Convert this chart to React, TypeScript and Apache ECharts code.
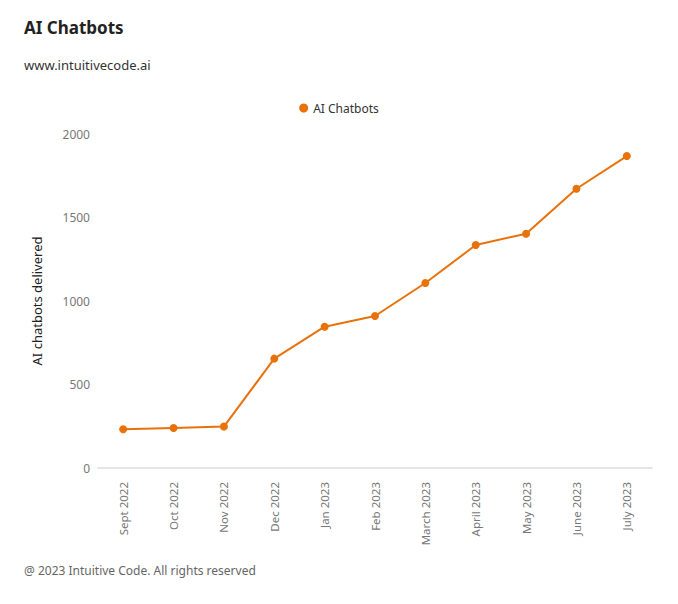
import React, { useEffect, useRef } from "react";
import * as echarts from "echarts";

const categories = [
  "Sept 2022", "Oct 2022", "Nov 2022", "Dec 2022", "Jan 2023", "Feb 2023",
  "March 2023", "April 2023", "May 2023", "June 2023", "July 2023",
];
const chatbots = [232, 240, 248, 655, 846, 910, 1108, 1335, 1403, 1672, 1868];
const seriesName = "AI Chatbots";
const yTicks = { min: 0, max: 2000, interval: 500 };

const FONT = "'Noto Sans', sans-serif";

export default function App() {
  const ref = useRef<HTMLDivElement>(null);
  useEffect(() => {
    document.body.style.margin = "0";
    const chart = echarts.init(ref.current!, undefined, { renderer: "svg" });
    chart.setOption({
      animation: false,
      backgroundColor: "#ffffff",
      textStyle: { fontFamily: FONT },
      title: {
        text: "AI Chatbots",
        subtext: "www.intuitivecode.ai",
        left: 19,
        top: 14,
        itemGap: 22,
        textStyle: { fontFamily: FONT, fontSize: 17, fontWeight: "bold", color: "#222" },
        subtextStyle: { fontFamily: FONT, fontSize: 13, color: "#333" },
      },
      legend: {
        top: 97,
        left: "center",
        icon: "circle",
        itemWidth: 9,
        itemHeight: 9,
        itemGap: 10,
        textStyle: { fontFamily: FONT, fontSize: 12, color: "#333" },
        data: [seriesName],
      },
      grid: { left: 98, right: 26, top: 134, bottom: 136, containLabel: false },
      xAxis: {
        type: "category",
        data: categories,
        boundaryGap: true,
        axisLine: { lineStyle: { color: "#e6e6e6", width: 2 } },
        axisTick: { show: false },
        axisLabel: { rotate: 90, color: "#777", fontSize: 11.5, margin: 14, fontFamily: FONT },
      },
      yAxis: {
        type: "value",
        min: yTicks.min,
        max: yTicks.max,
        interval: yTicks.interval,
        name: "AI chatbots delivered",
        nameLocation: "middle",
        nameGap: 55,
        nameTextStyle: { fontFamily: FONT, fontSize: 13, color: "#222" },
        axisLine: { show: false },
        axisTick: { show: false },
        splitLine: { show: false },
        axisLabel: {
          color: "#777",
          fontSize: 12,
          margin: 8,
          fontFamily: FONT,
          formatter: (v: number) => String(v),
        },
      },
      series: [
        {
          name: seriesName,
          type: "line",
          data: chatbots,
          symbol: "circle",
          symbolSize: 8,
          color: "#e8710a",
          lineStyle: { width: 2, color: "#e8710a" },
          itemStyle: { color: "#e8710a" },
        },
      ],
      graphic: [
        {
          type: "text",
          left: 24,
          top: 564,
          style: {
            text: "@ 2023 Intuitive Code. All rights reserved",
            fontFamily: FONT,
            fontSize: 12,
            fill: "#666",
          },
        },
      ],
    });
    return () => chart.dispose();
  }, []);
  return <div ref={ref} style={{ width: 678, height: 604 }} />;
}
